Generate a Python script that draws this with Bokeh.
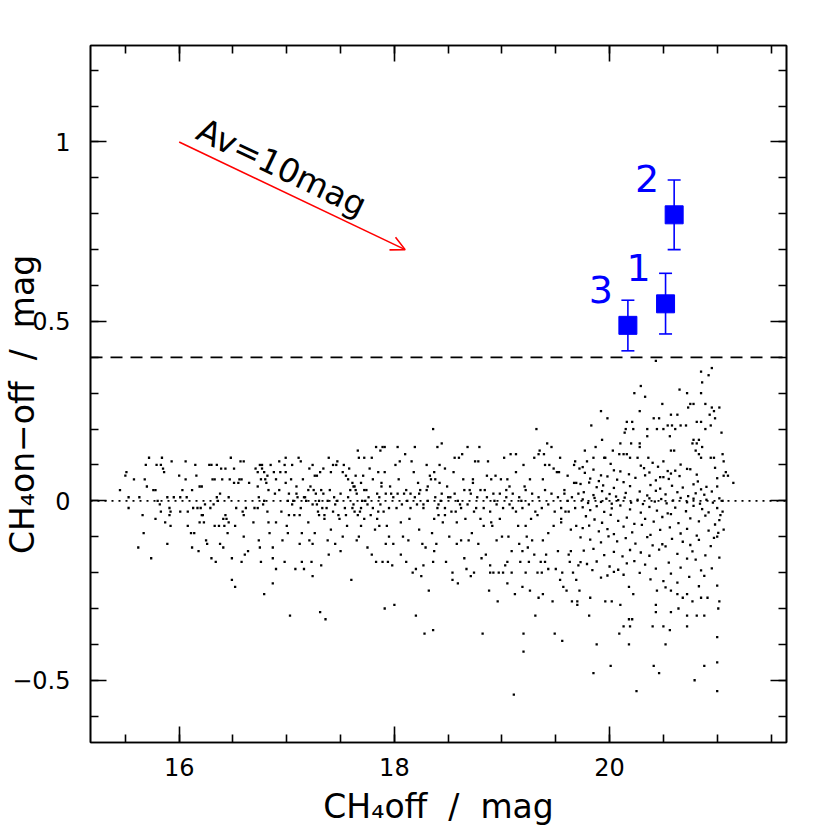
from bokeh.plotting import figure
from bokeh.models import (Range1d, SingleIntervalTicker, LinearAxis, Arrow, OpenHead, Label,
                          Whisker, TeeHead, ColumnDataSource, Span, CustomJSTickFormatter)
from bokeh.embed import file_html
from bokeh.resources import INLINE
from bokeh.core.properties import value

FONT = "DejaVu Sans"

# ---------------- data ----------------
# field stars: (CH4off, CH4on-off)
stars_a = [(15.45,0.03),(15.51,0.08),(15.50,0.07),(15.53,0.01),(15.53,-0.02),(15.58,0.06),(15.62,-0.13),(15.63,0.01),
    (15.66,-0.04),(15.67,-0.09),(15.68,0.06),(15.70,0.04),(15.69,0.10),(15.72,0.12),(15.74,-0.16),(15.76,0.03),
    (15.78,0.03),(15.78,-0.05),(15.79,0.10),(15.83,0.10),(15.80,0.00),(15.82,-0.01),(15.83,-0.03),(15.84,0.12),
    (15.85,0.09),(15.86,0.08),(15.87,-0.06),(15.89,0.01),(15.89,-0.12),(15.91,-0.02),(15.91,-0.04),(15.92,-0.07),
    (15.93,0.11),(15.92,-0.03),(15.95,0.01),(16.00,0.07),(16.01,-0.03),(16.01,0.01),(16.03,0.03),(16.06,0.11),
    (16.06,0.06),(16.07,0.01),(16.08,-0.07),(16.08,-0.03),(16.11,-0.09),(16.12,0.03),(16.12,-0.13),(16.13,-0.02),
    (16.14,-0.09),(16.15,0.10),(16.16,0.07),(16.17,-0.02),(16.18,-0.14),(16.19,0.04),(16.19,-0.06),(16.20,-0.02),
    (16.21,0.04),(16.21,-0.04),(16.22,-0.04),(16.23,-0.06),(16.24,-0.01),(16.25,-0.11),(16.26,-0.12),(16.28,0.10),
    (16.29,-0.02),(16.30,-0.16),(16.30,0.10),(16.31,0.06),(16.32,-0.01),(16.33,0.06),(16.33,-0.07),(16.34,-0.17),
    (16.35,0.10),(16.35,0.01),(16.36,0.00),(16.37,-0.07),(16.38,-0.12),(16.38,0.02),(16.39,0.09),(16.40,0.06),
    (16.41,-0.05),(16.41,-0.13),(16.42,-0.07),(16.43,0.09),(16.43,-0.04),(16.44,-0.05),(16.45,-0.09),(16.46,0.01),
    (16.46,-0.06),(16.47,0.06),(16.48,0.12),(16.49,-0.22),(16.49,-0.16),(16.51,0.09),(16.51,0.05),(16.52,-0.24),
    (16.52,-0.07),(16.53,-0.02),(16.55,0.05),(16.56,0.06),(16.57,0.11),(16.58,0.06),(16.58,-0.17),(16.59,-0.03),
    (16.60,0.11),(16.60,-0.10),(16.60,-0.04),(16.61,-0.15),(16.62,-0.02),(16.64,-0.14),(16.65,0.05),(16.69,-0.06),
    (16.70,-0.02),(16.71,0.09),(16.73,-0.02),(16.73,0.08),(16.73,0.04),(16.74,-0.11),(16.74,0.01),(16.75,-0.13),
    (16.75,0.10),(16.76,-0.17),(16.76,0.06),(16.77,0.10),(16.77,0.09),(16.78,-0.01),(16.79,0.00),(16.79,-0.26),
    (16.79,0.08),(16.80,0.06),(16.81,0.05),(16.82,-0.03),(16.82,0.07),(16.83,0.03),(16.83,-0.06),(16.84,-0.09)]

stars_b = [(16.85,0.10),(16.88,0.08),(16.89,0.02),(16.90,0.06),(16.90,-0.06),(16.87,-0.13),(16.87,-0.16),(16.90,-0.19),
    (16.87,-0.23),(16.93,0.11),(16.93,0.03),(16.94,0.08),(16.95,-0.03),(16.96,-0.11),(16.98,-0.17),(16.98,0.10),
    (16.99,0.12),(16.99,0.08),(16.99,0.05),(17.00,-0.07),(17.01,0.00),(17.01,-0.09),(17.02,-0.04),(17.03,-0.32),
    (17.04,0.06),(17.05,0.10),(17.06,0.00),(17.07,-0.04),(17.08,-0.19),(17.09,0.04),(17.10,0.01),(17.11,0.12),
    (17.12,-0.04),(17.12,-0.12),(17.13,0.11),(17.14,-0.09),(17.14,-0.17),(17.15,0.06),(17.16,-0.19),(17.16,0.01),
    (17.18,0.00),(17.20,-0.06),(17.21,0.09),(17.21,-0.11),(17.22,0.04),(17.23,-0.17),(17.24,-0.21),(17.24,0.10),
    (17.24,-0.12),(17.25,0.03),(17.26,-0.09),(17.26,0.07),(17.28,-0.01),(17.28,0.07),(17.29,-0.03),(17.30,-0.04),
    (17.31,-0.31),(17.31,0.08),(17.32,-0.18),(17.32,0.03),(17.33,-0.02),(17.34,0.09),(17.35,-0.05),(17.35,-0.04),
    (17.36,-0.33),(17.38,-0.11),(17.38,0.00),(17.39,0.12),(17.39,-0.15),(17.41,0.08),(17.41,-0.08),(17.43,0.10),
    (17.43,-0.03),(17.44,0.01),(17.45,-0.12),(17.46,0.10),(17.47,0.00),(17.47,0.11),(17.48,-0.04),(17.49,-0.05),
    (17.50,-0.14),(17.52,0.08),(17.52,-0.10),(17.53,0.10),(17.55,0.07),(17.55,-0.04),(17.56,-0.07),(17.57,0.06),
    (17.58,0.09),(17.59,0.03),(17.60,-0.22),(17.61,0.05),(17.61,-0.02),(17.62,0.04),(17.63,-0.03),(17.64,0.07),
    (17.65,-0.11),(17.66,0.14),(17.67,-0.10),(17.67,0.12),(17.68,-0.03),(17.69,0.05),(17.69,-0.07),(17.70,0.00),
    (17.71,0.07),(17.72,0.12),(17.72,-0.05),(17.73,0.00),(17.74,0.03),(17.75,-0.13),(17.75,-0.01),(17.77,0.09),
    (17.78,-0.04),(17.79,-0.15),(17.79,0.12),(17.80,0.06),(17.82,-0.08),(17.83,0.15),(17.83,-0.17),(17.84,-0.05),
    (17.85,0.08),(17.86,0.01),(17.86,-0.07),(17.87,0.14),(17.88,0.05),(17.89,-0.17),(17.89,0.15),(17.90,-0.03),
    (17.91,-0.30),(17.91,0.08),(17.91,0.15),(17.92,-0.12),(17.93,-0.07),(17.94,-0.17),(17.95,-0.10),(17.96,0.04),
    (17.97,0.02),(17.98,-0.18),(17.99,-0.12),(18.00,-0.29),(18.01,0.10),(18.02,-0.02),(18.03,0.15),(18.04,0.06),
    (18.05,0.11),(18.06,-0.06),(18.06,-0.15),(18.08,-0.10),(18.09,0.02),(18.10,0.13),(18.11,-0.17),(18.12,0.00),
    (18.13,-0.11),(18.14,-0.05),(18.15,0.02),(18.16,0.11),(18.17,-0.20),(18.18,0.08),(18.19,0.15),(18.20,-0.32),
    (18.20,-0.19),(18.21,-0.01),(18.22,0.05),(18.23,-0.08),(18.24,0.03),(18.25,-0.21),(18.26,-0.12),(18.27,-0.02),
    (18.27,-0.18),(18.28,-0.37),(18.29,-0.13),(18.30,0.10),(18.31,0.04),(18.31,0.00),(18.32,-0.25),(18.33,0.07),
    (17.02,0.02),(17.05,-0.01),(17.09,0.02),(17.13,-0.02),(17.17,0.01),(17.20,0.03),(17.24,-0.01),(17.27,0.02),
    (17.30,0.00),(17.34,0.02),(17.37,-0.02),(17.40,0.03),(17.45,-0.01),(17.50,0.02),(17.54,-0.02),(17.57,0.01),
    (17.62,-0.01),(17.65,0.02),(17.69,-0.02),(17.72,0.03),(17.76,0.01),(17.80,-0.02),(17.84,0.02),(17.87,-0.01),
    (17.92,0.02),(17.95,-0.02),(17.99,0.01),(18.03,0.02),(18.07,-0.01),(18.11,0.03),(18.15,-0.02),(18.19,0.01),
    (18.23,0.02),(18.27,-0.01),(18.30,0.03),(17.63,0.04),(17.64,0.03),(17.66,-0.04),(17.85,-0.03),(17.88,0.04)]

stars_c = [(18.36,0.20),(18.40,0.15),(18.44,0.16),(18.34,0.06),(18.37,0.08),(18.38,0.06),(18.40,-0.02),(18.41,-0.04),
    (18.37,-0.05),(18.35,-0.09),(18.37,-0.14),(18.36,-0.17),(18.36,-0.36),(18.39,-0.12),(18.42,0.10),(18.43,0.00),
    (18.45,-0.06),(18.47,0.09),(18.47,-0.04),(18.48,-0.17),(18.49,0.04),(18.51,-0.10),(18.52,0.01),(18.54,-0.22),
    (18.54,-0.20),(18.55,0.08),(18.56,0.12),(18.57,-0.03),(18.58,-0.12),(18.59,-0.23),(18.60,0.12),(18.61,-0.01),
    (18.62,-0.11),(18.63,0.13),(18.64,0.06),(18.65,-0.16),(18.66,-0.05),(18.67,-0.19),(18.68,0.15),(18.69,-0.11),
    (18.70,0.03),(18.71,-0.21),(18.72,-0.09),(18.73,0.06),(18.74,-0.20),(18.75,0.11),(18.76,-0.02),(18.78,-0.12),
    (18.78,0.11),(18.79,0.15),(18.80,-0.05),(18.81,-0.16),(18.82,-0.37),(18.83,-0.07),(18.84,0.03),(18.85,-0.15),
    (18.86,0.07),(18.87,0.11),(18.88,-0.25),(18.89,-0.18),(18.89,-0.20),(18.90,0.06),(18.91,-0.07),(18.92,-0.20),
    (18.93,0.00),(18.94,0.07),(18.95,-0.11),(18.96,-0.28),(18.97,-0.20),(18.98,-0.05),(18.99,0.06),(19.00,-0.10),
    (19.01,-0.20),(19.02,0.12),(19.03,-0.18),(19.04,0.01),(19.05,-0.23),(19.05,-0.17),(19.06,-0.10),(19.07,0.04),
    (19.08,0.13),(19.09,-0.20),(19.09,-0.14),(19.10,-0.02),(19.11,-0.54),(19.12,-0.26),(19.13,0.13),(19.13,0.08),
    (19.15,-0.07),(19.16,-0.12),(19.17,-0.17),(19.18,0.00),(19.19,-0.14),(19.19,-0.24),(19.20,-0.37),(19.20,-0.42),
    (19.20,0.10),(19.21,0.04),(19.22,-0.20),(19.23,-0.10),(19.24,-0.13),(19.25,-0.17),(19.26,0.06),(19.26,-0.25),
    (19.27,-0.05),(19.28,-0.11),(19.30,0.12),(19.30,-0.15),(19.31,-0.32),(19.32,0.20),(19.33,-0.20),(19.33,-0.04),
    (19.34,-0.27),(19.34,0.13),(19.35,0.14),(19.36,-0.17),(19.37,-0.20),(19.38,-0.11),(19.38,-0.26),(19.39,0.13),
    (19.40,-0.17),(19.40,0.10),(19.41,-0.15),(19.42,0.16),(19.43,-0.09),(19.43,-0.19),(19.44,0.10),(19.46,0.15),
    (19.47,-0.28),(19.48,-0.07),(19.48,0.09),(19.49,-0.37),(19.50,-0.19),(19.51,0.08),(19.52,-0.14),(19.53,0.08),
    (19.54,-0.22),(19.54,0.12),(19.55,-0.05),(19.56,-0.20),(19.56,-0.39),(19.57,-0.24),(19.58,0.03),(19.59,-0.03),
    (19.60,-0.25),(19.61,0.00),(19.61,0.07),(19.62,-0.15),(19.63,-0.17),(19.64,-0.08),(19.64,-0.14),(19.65,-0.28),
    (19.66,-0.20),(19.67,0.10),(19.67,0.05),(19.68,0.11),(19.69,-0.22),(19.69,-0.07),(19.70,-0.28),(19.70,-0.29),
    (19.71,-0.18),(19.72,0.09),(19.72,-0.25),
    (18.38,0.01),(18.41,-0.01),(18.44,0.02),(18.47,-0.02),(18.50,0.01),(18.53,-0.03),(18.56,0.02),(18.59,0.00),
    (18.62,-0.02),(18.65,0.03),(18.68,-0.01),(18.71,0.02),(18.74,-0.03),(18.77,0.01),(18.80,0.03),(18.83,-0.02),
    (18.86,0.01),(18.89,-0.03),(18.92,0.02),(18.95,-0.01),(18.98,0.02),(19.01,-0.02),(19.04,0.03),(19.07,-0.01),
    (19.10,0.02),(19.13,-0.03),(19.16,0.01),(19.19,-0.02),(19.22,0.03),(19.25,-0.01),(19.28,0.02),(19.31,-0.03),
    (19.34,0.01),(19.37,-0.02),(19.40,0.03),(19.43,-0.01),(19.46,0.02),(19.49,-0.03),(19.52,0.01),(19.55,-0.02),
    (19.58,0.02),(19.62,-0.03),(19.65,0.01),(19.68,-0.02),(19.71,0.02),(18.42,0.05),(18.58,-0.06),(18.73,0.05),
    (18.90,-0.06),(19.05,0.06),(19.22,-0.07),(19.38,0.06),(19.55,-0.06),(19.69,0.05)]

stars_d = [(20.43,0.39),(20.95,0.37),(20.85,0.36),(20.92,0.35),(20.86,0.33),(20.29,0.32),(20.65,0.31),(20.72,0.30),
    (20.85,0.30),(20.23,0.30),(20.33,0.29),(20.75,0.27),(20.78,0.27),(20.89,0.27),(20.49,0.27),(20.95,0.26),
    (20.97,0.25),(19.92,0.25),(20.28,0.25),(20.73,0.26),(21.02,0.26),(20.57,0.24),(20.63,0.24),(19.98,0.23),
    (20.41,0.23),(20.46,0.23),(20.93,0.24),(20.85,0.22),(19.83,0.21),(20.16,0.22),(20.21,0.22),(20.81,0.22),
    (20.71,0.21),(20.98,0.23),(20.35,0.20),(20.44,0.20),(20.50,0.20),(20.54,0.21),(20.58,0.21),(20.61,0.20),
    (20.66,0.21),(20.15,0.20),(20.22,0.20),(20.89,0.20),(20.94,0.21),(20.14,0.19),(20.35,0.18),(20.56,0.18),
    (20.78,0.17),(20.83,0.17),(19.93,0.17),(20.20,0.16),(20.28,0.16),(20.10,0.16),(20.81,0.16),(20.28,0.15),
    (20.77,0.16),(20.86,0.15),(19.77,0.14),(19.87,0.15),(20.03,0.14),(20.57,0.14),(20.60,0.14),(20.80,0.14),
    (20.83,0.13),(20.09,0.13),(20.13,0.13),(20.16,0.13),(19.85,0.12),(19.96,0.12),(20.94,0.12),(19.79,0.11),
    (19.95,0.12),(20.19,0.12),(20.26,0.12),(20.36,0.12),(20.50,0.11),(20.85,0.12),(20.97,0.12),
    (19.75,0.094),(19.85,0.087),(20.01,0.103),(20.04,0.085),(20.29,0.098),(20.32,0.091),(20.40,0.106),(20.45,0.095),
    (20.54,0.083),(20.66,0.101),(20.72,0.089),(20.98,0.092),
    (19.77,0.078),(19.92,0.071),(20.10,0.082),(20.18,0.074),(20.37,0.079),(20.50,0.066),(20.57,0.076),(20.61,0.084),
    (20.75,0.088),(20.81,0.073),
    (19.82,0.062),(19.90,0.055),(19.98,0.068),(20.07,0.059),(20.13,0.052),(20.24,0.064),(20.33,0.071),(20.43,0.057),
    (20.47,0.066),(20.55,0.061),(20.65,0.069),(20.82,0.054),(21.00,0.063),
    (19.73,0.047),(19.81,0.051),(19.88,0.038),(19.94,0.043),(20.04,0.036),(20.19,0.041),(20.28,0.026),(20.38,0.044),
    (20.47,0.034),(20.58,0.042),(20.68,0.037),(20.78,0.046),(20.85,0.032),(20.90,0.039),
    (19.76,0.024),(19.85,0.016),(19.93,0.027),(20.00,0.019),(20.06,0.012),(20.15,0.022),(20.35,0.015),(20.43,0.028),
    (20.52,0.018),(20.63,0.024),(20.73,0.013),(20.80,0.021),(20.88,0.017),(20.95,0.026),
    (19.75,0.004),(19.80,-0.006),(19.86,0.008),(19.92,-0.003),(19.97,0.006),(20.02,-0.008),(20.08,0.002),(20.14,0.009),
    (20.20,-0.005),(20.26,0.003),(20.31,-0.009),(20.37,0.007),(20.42,-0.002),(20.48,0.005),(20.53,-0.007),(20.59,0.001),
    (20.66,0.008),(20.72,-0.004),(20.78,0.006),(20.84,-0.008),(20.90,0.003),(20.96,-0.005),(21.02,0.007),
    (19.75,-0.018),(19.82,-0.026),(19.88,-0.015),(19.95,-0.031),(20.02,-0.021),(20.10,-0.013),(20.19,-0.024),(20.29,-0.033),
    (20.37,-0.017),(20.44,-0.027),(20.54,-0.035),(20.61,-0.019),(20.71,-0.029),(20.78,-0.014),(20.86,-0.023),(20.92,-0.032),
    (21.00,-0.020),
    (19.78,-0.043),(19.86,-0.052),(19.93,-0.061),(20.01,-0.039),(20.08,-0.056),(20.16,-0.047),(20.23,-0.064),(20.33,-0.050),
    (20.41,-0.058),(20.49,-0.045),(20.57,-0.037),(20.64,-0.062),(20.75,-0.049),(20.83,-0.057),(20.89,-0.041),(20.98,-0.066),
    (21.02,-0.054),
    (19.75,-0.076),(19.81,-0.069),(19.90,-0.085),(19.98,-0.079),(20.04,-0.093),(20.13,-0.072),(20.21,-0.088),(20.30,-0.067),
    (20.38,-0.095),(20.47,-0.081),(20.56,-0.074),(20.66,-0.091),(20.72,-0.078),(20.81,-0.097),(20.92,-0.083),(21.01,-0.089),
    (19.73,-0.102),(19.82,-0.108),(19.92,-0.116),(19.99,-0.099),(20.07,-0.113),(20.15,-0.104),(20.24,-0.119),(20.35,-0.101),
    (20.40,-0.124),(20.49,-0.121),(20.52,-0.127),(20.58,-0.106),(20.68,-0.114),(20.75,-0.123),(20.83,-0.109),(20.94,-0.126),
    (20.97,-0.103),
    (19.76,-0.139),(19.85,-0.134),(19.95,-0.151),(20.04,-0.142),(20.12,-0.155),(20.19,-0.137),(20.23,-0.168),(20.29,-0.144),
    (20.37,-0.153),(20.46,-0.136),(20.55,-0.172),(20.63,-0.148),(20.72,-0.161),(20.77,-0.141),(20.80,-0.164),(20.89,-0.152),
    (21.02,-0.158),
    (19.73,-0.171),(19.79,-0.176),(19.88,-0.169),(20.00,-0.183),(20.08,-0.192),(20.16,-0.174),(20.33,-0.178),(20.43,-0.189),
    (20.57,-0.203),(20.66,-0.186),(20.85,-0.194),(20.95,-0.188),
    (19.84,-0.193),(19.92,-0.214),(19.98,-0.208),(20.04,-0.198),(20.13,-0.206),(20.28,-0.201),(20.38,-0.219),(20.50,-0.224),
    (20.52,-0.241),(20.63,-0.228),(20.74,-0.212),(20.83,-0.238),(20.88,-0.209),(21.00,-0.236),
    (19.82,-0.27),(19.96,-0.28),(20.10,-0.29),(20.18,-0.24),(20.22,-0.26),(20.44,-0.25),(20.57,-0.25),(20.63,-0.26),
    (20.68,-0.27),(20.72,-0.26),(20.77,-0.28),(20.85,-0.27),(20.91,-0.27),(21.02,-0.28),(20.43,-0.29),(20.02,-0.28),
    (19.81,-0.32),(20.43,-0.31),(20.57,-0.31),(20.64,-0.30),(20.72,-0.32),(20.81,-0.32),(20.88,-0.32),(21.01,-0.30),
    (20.18,-0.33),(20.21,-0.33),(20.13,-0.35),(20.19,-0.35),(20.40,-0.35),(20.50,-0.35),(20.56,-0.36),(20.72,-0.35),
    (20.09,-0.37),(21.00,-0.38),(19.88,-0.40),(20.18,-0.40),(20.52,-0.40),(20.01,-0.46),(20.41,-0.46),(20.46,-0.48),
    (20.88,-0.46),(19.85,-0.48),(20.79,-0.50),(20.25,-0.53),(21.00,-0.53),(21.00,-0.45),
    (21.04,0.19),(21.05,0.13),(21.06,0.11),(21.08,0.08),(21.06,0.07),(21.10,0.07),(21.15,0.05),(21.00,0.04),
    (21.05,0.00),(21.05,-0.03),(21.03,-0.04),(21.06,-0.08),(21.00,-0.10)]

# candidates (blue squares) with error bars
cand_names = ["1", "2", "3"]
cand_off = [20.52, 20.60, 20.17]
cand_onoff = [0.549, 0.797, 0.489]
cand_lower = [0.465, 0.700, 0.418]
cand_upper = [0.634, 0.894, 0.559]

# reference levels
threshold = 0.40
zero_level = 0.0

# reddening vector Av = 10 mag
av_start = (16.0, 1.0)
av_end = (18.10, 0.70)
av_text = "Av=10mag"

x_limits = (15.176, 21.644)
y_limits = (-0.6734, 1.2688)

NBSP = "\u00a0"
x_title = "CH\u2084off" + NBSP * 2 + "/" + NBSP * 2 + "mag"
y_title = "CH\u2084on\u2212off" + NBSP * 2 + "/" + NBSP * 2 + "mag" + NBSP * 2

# ---------------- figure ----------------
p = figure(width=830, height=830, output_backend="svg", toolbar_location=None,
           x_range=Range1d(*x_limits), y_range=Range1d(*y_limits),
           x_axis_type=None, y_axis_type=None,
           min_border_left=90, min_border_right=44, min_border_top=45, min_border_bottom=88)
p.outline_line_color = "black"
p.outline_line_width = 1.6
p.background_fill_color = "white"
p.border_fill_color = "white"

fmt = CustomJSTickFormatter(code="""
const t = Math.round(tick*10)/10;
return (t < 0 ? "\u2212" : "") + Math.abs(t).toString();
""")
blank_fmt = CustomJSTickFormatter(code="return '';")

def make_axis(interval, nminor, show):
    return LinearAxis(ticker=SingleIntervalTicker(interval=interval, num_minor_ticks=nminor),
                      formatter=fmt if show else blank_fmt,
                      major_tick_in=16, major_tick_out=0, minor_tick_in=8, minor_tick_out=0,
                      axis_line_width=1.6, major_tick_line_width=1.6, minor_tick_line_width=1.6,
                      axis_line_color="black", major_tick_line_color="black", minor_tick_line_color="black",
                      major_label_text_font=FONT, major_label_text_color="black",
                      major_label_text_font_size="24px",
                      major_label_standoff=14 if show else 0,
                      axis_label_text_font=FONT, axis_label_text_font_size="33px",
                      axis_label_text_font_style="normal", axis_label_text_color="black")

xb = make_axis(2, 4, True)
xb.major_label_standoff = 15
xb.axis_label = x_title
xb.axis_label_standoff = 8
p.add_layout(xb, "below")
p.add_layout(make_axis(2, 4, False), "above")
yl = make_axis(0.5, 5, True)
yl.major_label_standoff = 20
yl.axis_label = y_title
yl.axis_label_standoff = -33
p.add_layout(yl, "left")
p.add_layout(make_axis(0.5, 5, False), "right")

# reference lines
p.add_layout(Span(location=threshold, dimension="width", line_color="black",
                  line_width=1.7, line_dash="12 8"))
p.add_layout(Span(location=zero_level, dimension="width", line_color="black",
                  line_width=1.7, line_dash="2 5"))

# field stars
xs, ys = [], []
for grp in (stars_a, stars_b, stars_c, stars_d):
    for a, b in grp:
        xs.append(a)
        ys.append(b)
p.scatter(xs, ys, marker="square", size=2.3, fill_color="black", line_color=None)

# candidates
src = ColumnDataSource(dict(x=cand_off, y=cand_onoff, lo=cand_lower, hi=cand_upper, name=cand_names))
p.add_layout(Whisker(source=src, base="x", lower="lo", upper="hi", dimension="height",
                     line_color="blue", line_width=1.6,
                     upper_head=TeeHead(size=13, line_color="blue", line_width=1.6),
                     lower_head=TeeHead(size=13, line_color="blue", line_width=1.6)))
p.scatter("x", "y", source=src, marker="square", size=18, fill_color="blue", line_color="blue")
p.text("x", "y", text="name", source=src, text_color="blue", text_font=value(FONT),
       text_font_size="38px", text_align="center", text_baseline="middle",
       x_offset=-27, y_offset=-36)

# reddening arrow
p.add_layout(Arrow(x_start=av_start[0], y_start=av_start[1], x_end=av_end[0], y_end=av_end[1],
                   line_color="red", line_width=1.6,
                   end=OpenHead(size=14, line_color="red", line_width=1.6)))
p.add_layout(Label(x=av_start[0], y=av_start[1], x_offset=20, y_offset=14, text=av_text,
                   angle=-25.5, angle_units="deg",
                   text_align="left", text_baseline="alphabetic",
                   text_font=FONT, text_font_size="33px", text_color="black"))

open("out.html", "w").write(file_html(p, INLINE))
